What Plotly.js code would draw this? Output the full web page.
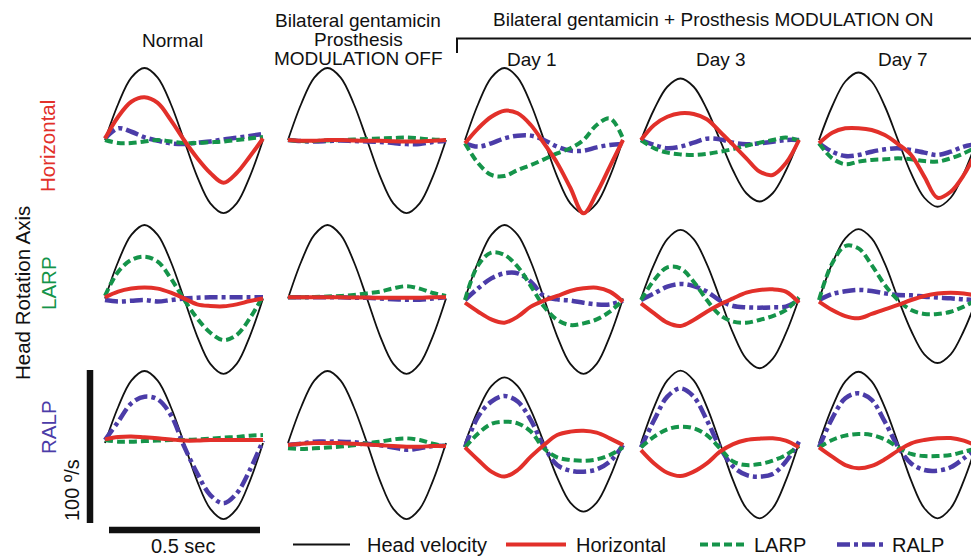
<!DOCTYPE html>
<html><head><meta charset="utf-8">
<script src="https://cdn.plot.ly/plotly-3.0.1.min.js"></script>
<style>html,body{margin:0;padding:0;background:#fff;} #chart{width:971px;height:556px;}</style>
</head><body><div id="chart"></div>
<script>
// time within one head-rotation cycle (s)
const t = [0, 0.0417, 0.0833, 0.125, 0.1667, 0.2083, 0.25, 0.2917, 0.3333, 0.375, 0.4167, 0.4583, 0.5];

const columns = ['Normal', 'Bilateral gentamicin Prosthesis MODULATION OFF', 'Day 1', 'Day 3', 'Day 7'];
const rotationAxes = ['Horizontal', 'LARP', 'RALP'];
const seriesNames = ['Head velocity', 'Horizontal', 'LARP', 'RALP'];

// ---- Head rotation about Horizontal axis (deg/s) ----
const head_H_normal = [0, 24, 41.6, 48, 41.6, 24, 0, -24.4, -42.2, -48.7, -42.2, -24.4, 0];
const hor_H_normal  = [1, 15.5, 25.5, 28.5, 24.7, 13.3, 0, -12, -22, -28.5, -22, -11, 1];
const larp_H_normal = [0, -2, -2, -1, 0, -1, -2, -2, -1.5, -1, 0, 1, 2];
const ralp_H_normal = [1, 7.8, 5.5, 1.8, -0.5, -2.2, -2.7, -1.8, -1, 0.4, 1.5, 2.7, 4];

const head_H_off = [0, 24, 41.6, 48, 41.6, 24, 0, -24.4, -42.2, -48.7, -42.2, -24.4, 0];
const hor_H_off  = [0, -0.5, -0.5, 0, 0, -0.3, -0.5, -0.5, -0.8, -1, -1, -0.5, 0];
const larp_H_off = [0, -0.7, -0.7, -0.3, 0, 0.3, 0.7, 1, 1.3, 1.7, 1, 0.3, 0];
const ralp_H_off = [0, -0.7, -1, -0.7, -0.3, -0.7, -1, -1.3, -2, -2.7, -2.7, -1.3, -0.7];

const head_H_d1 = [0, 24, 41.6, 48, 41.6, 24, 0, -24.4, -42.2, -48.7, -42.2, -24.4, 0];
const hor_H_d1  = [-2.2, 7.8, 15.5, 19.5, 17.8, 10, -2.2, -15.3, -31.8, -48.9, -35.4, -17.8, 0];
const larp_H_d1 = [-2.2, -15.5, -23.3, -24, -20, -16.7, -12.9, -8.9, -5.5, 0, 10, 14.4, 1];
const ralp_H_d1 = [-2.2, -4.4, -2.2, 1.1, 2.9, 2.9, 0, -4.4, -7.1, -7.1, -4.9, -3.3, -2.7];

const head_H_d3 = [0, 20.5, 35.5, 41, 35.5, 20.5, 0, -20.5, -35.5, -41, -35.5, -20.5, 0];
const hor_H_d3  = [0, 10, 15.5, 17.8, 17.3, 13.8, 5.5, -3.3, -12.2, -21, -23.3, -15.5, 0];
const larp_H_d3 = [0, -5.5, -8.4, -9.6, -10, -9.3, -7.8, -6, -3.8, -1.8, 0, 1.6, -0.4];
const ralp_H_d3 = [0, -3.3, -5.5, -4.4, -1.8, 0.9, 0.4, -1.8, -2.9, -2.2, -1.1, 0, 0];

const head_H_d7 = [0, 22.5, 39, 45, 39, 22.5, 0, -22.3, -38.5, -44.5, -38.5, -22.3, 0];
const hor_H_d7  = [-2.2, 4.9, 7.8, 7.9, 6.7, 3.3, -2.7, -10, -24.4, -38.5, -34.5, -23.3, -6.7];
const larp_H_d7 = [-2.2, -12.2, -16.2, -14.4, -13.3, -12.9, -12.2, -12.9, -14, -14.4, -12.2, -8.9, -4.4];
const ralp_H_d7 = [-2.2, -7.8, -10.7, -10, -7.8, -6.2, -5.5, -6.7, -8.4, -10, -7.8, -4.4, -2.7];

// ---- Head rotation about LARP axis ----
const head_L_normal = [0, 24.5, 42.4, 49, 42.4, 24.5, 0, -25.2, -43.6, -50.3, -43.6, -25.2, 0];
const hor_L_normal  = [0.8, 4.6, 6.6, 7.4, 6.6, 3.9, 0.1, -3.9, -5, -5.2, -3.9, -1.7, 0];
const larp_L_normal = [1.7, 17.9, 25.7, 27.9, 24.6, 13.4, -0.6, -13.2, -22.8, -27.7, -24.3, -13.2, 1.7];
const ralp_L_normal = [-1, -2, -1.5, -1, -2, -1, 0, 0.5, 0.8, 0.8, 0.8, 0.8, 0.8];

const head_L_off = [0, 24.5, 42.4, 49, 42.4, 24.5, 0, -25.2, -43.6, -50.3, -43.6, -25.2, 0];
const hor_L_off  = [0.8, 0.8, 0.8, 0.8, 0.8, 0.6, 0.6, 0.5, 0.5, 0.5, 0.5, 0.8, 0.8];
const larp_L_off = [0.8, 0.8, 1, 1.3, 1.7, 2.3, 3.4, 4.6, 6.8, 8.2, 6.6, 3.7, 1.7];
const ralp_L_off = [0.8, 0.8, 0.8, 0.8, 0.8, 0.5, 0.5, 0, -0.5, -0.8, -0.8, 0, 0.8];

const head_L_d1 = [0, 24.5, 42.4, 49, 42.4, 24.5, 0, -25.2, -43.6, -50.3, -43.6, -25.2, 0];
const hor_L_d1  = [-2.8, -8.8, -13.9, -16.1, -12.1, -5.4, -1.4, 1.7, 5, 6.8, 7.2, 4.6, -2.1];
const larp_L_d1 = [-1, 22.3, 30.6, 29, 21.2, 8.3, -5.4, -14.3, -17.7, -16.6, -13.9, -8.8, -1];
const ralp_L_d1 = [-1, 6.8, 13.4, 16.8, 16.8, 11.2, 1.7, -0.6, -1.4, -2.8, -3.9, -3.9, -1.4];

const head_L_d3 = [0, 22.9, 39.6, 45.7, 39.6, 22.9, 0, -23.3, -40.3, -46.5, -40.3, -23.3, 0];
const hor_L_d3  = [-3.2, -9.9, -16.1, -18.3, -14.3, -8.8, -3.9, 0.1, 3.9, 5.7, 6.1, 4.6, -2.8];
const larp_L_d3 = [-1, 12.3, 20.8, 20.1, 11.2, -1, -11, -15.4, -16.1, -14.3, -11.7, -7.7, 0.8];
const ralp_L_d3 = [-1, 3.4, 7.9, 9.7, 8.3, 4.6, -1.4, -5, -5.9, -6.1, -5.9, -5.4, -1];

const head_L_d7 = [-0.5, 23.2, 40.1, 46.3, 40.1, 23.2, 0, -21.5, -37.2, -43, -37.2, -21.5, 0];
const hor_L_d7  = [-2.1, -7.7, -11.7, -13.2, -10.3, -7.2, -4.3, -1, 1.7, 3.4, 3.9, 3.4, 1.7];
const larp_L_d7 = [-1, 23.4, 35, 33.4, 22.3, 9, -1, -7.7, -10.3, -10.3, -8.8, -5.4, -0.6];
const ralp_L_d7 = [-1, 3, 4.8, 5.7, 5, 3.4, 2.3, 2.1, 1.2, 0.6, 0.1, -0.6, -1];

// ---- Head rotation about RALP axis ----
const head_R_normal = [0, 24, 41.6, 48, 41.6, 24, 0, -25.4, -43.9, -50.7, -43.9, -25.4, 0];
const hor_R_normal  = [2.4, 4, 4.4, 3.8, 3.1, 2.4, 1.6, 1.6, 2, 2, 2, 2, 2];
const larp_R_normal = [2, 0.9, 0.9, 1.3, 1.6, 2, 2, 2.4, 2.9, 3.6, 4, 4.9, 5.3];
const ralp_R_normal = [2, 14.2, 26.4, 30.9, 29.1, 18.7, -2, -20.2, -34.7, -40.2, -33.6, -18, 1.6];

const head_R_off = [0, 24, 41.6, 48, 41.6, 24, 0, -25.4, -43.9, -50.7, -43.9, -25.4, 0];
const hor_R_off  = [-1.3, -0.5, 0, 0, 0, -0.5, -1, -1.5, -2, -2.5, -2.5, -2, -2];
const larp_R_off = [-3.5, -4, -3.5, -3, -2.4, -1.5, -0.2, 0.9, 2.4, 3.1, 2, -0.5, -2];
const ralp_R_off = [-1.3, -0.5, 0.9, 0.9, 0.9, 0.5, -0.5, -1.5, -3, -4.5, -3.5, -2, -2];

const head_R_d1 = [0, 21.9, 37.9, 43.8, 37.9, 21.9, 0, -22.9, -39.7, -45.8, -39.7, -22.9, 0];
const hor_R_d1  = [-2.9, -11.3, -19.1, -22.4, -18, -9.1, -1.3, 5.3, 7.6, 8.2, 6.9, 3.1, -1.3];
const larp_R_d1 = [-2.9, 6.4, 12.7, 14.2, 13.1, 7.6, -3.6, -9.6, -11.3, -11.8, -10.9, -8, -2.9];
const ralp_R_d1 = [-2.9, 17.6, 27.6, 31.3, 27.6, 15.3, -2.4, -14.7, -18.4, -19.1, -17.6, -12.4, -1.3];

const head_R_d3 = [0, 24.1, 41.7, 48.2, 41.7, 24.1, 0, -25.1, -43.5, -50.2, -43.5, -25.1, 0];
const hor_R_d3  = [-4.7, -13.6, -19.8, -22, -19.1, -13.6, -5.8, -0.7, 2, 2.9, 3.1, 1.6, -2.9];
const larp_R_d3 = [-2.9, 4.2, 9.1, 10.9, 9.8, 5.3, -3.6, -12.4, -14.7, -14, -11.8, -8, -2];
const ralp_R_d3 = [-2.9, 15.3, 30.9, 36.4, 30.9, 15.3, -2.9, -15.8, -21.3, -22.4, -20.7, -12.4, 0.9];

const head_R_d7 = [0, 23.8, 41.1, 47.5, 41.1, 23.8, 0, -25.1, -43.5, -50.2, -43.5, -25.1, 0];
const hor_R_d7  = [-2.9, -9.1, -14.7, -16.9, -15.3, -10.9, -5.1, -0.2, 2, 3.1, 3.3, 1.6, -2];
const larp_R_d7 = [-2.9, 2, 4.9, 6, 5.3, 2.4, -2.9, -7.3, -8.7, -8.7, -8, -5.8, -3.6];
const ralp_R_d7 = [-2.9, 16.4, 29.8, 33.1, 28.7, 14.2, -2.4, -13.6, -18, -18.4, -16.2, -10.2, -2.9];

const grid = [
  [[head_H_normal, hor_H_normal, larp_H_normal, ralp_H_normal],
   [head_H_off, hor_H_off, larp_H_off, ralp_H_off],
   [head_H_d1, hor_H_d1, larp_H_d1, ralp_H_d1],
   [head_H_d3, hor_H_d3, larp_H_d3, ralp_H_d3],
   [head_H_d7, hor_H_d7, larp_H_d7, ralp_H_d7]],
  [[head_L_normal, hor_L_normal, larp_L_normal, ralp_L_normal],
   [head_L_off, hor_L_off, larp_L_off, ralp_L_off],
   [head_L_d1, hor_L_d1, larp_L_d1, ralp_L_d1],
   [head_L_d3, hor_L_d3, larp_L_d3, ralp_L_d3],
   [head_L_d7, hor_L_d7, larp_L_d7, ralp_L_d7]],
  [[head_R_normal, hor_R_normal, larp_R_normal, ralp_R_normal],
   [head_R_off, hor_R_off, larp_R_off, ralp_R_off],
   [head_R_d1, hor_R_d1, larp_R_d1, ralp_R_d1],
   [head_R_d3, hor_R_d3, larp_R_d3, ralp_R_d3],
   [head_R_d7, hor_R_d7, larp_R_d7, ralp_R_d7]]
];

// ---- styling / geometry ----
const W = 971, H = 556;
const RED = '#e2302a', GREEN = '#15944a', PURPLE = '#4b3ca8', BLACK = '#111111';
const styles = [
  {color: BLACK, width: 1.8, dash: 'solid'},
  {color: RED, width: 4, dash: 'solid'},
  {color: GREEN, width: 4, dash: '8px,4px'},
  {color: PURPLE, width: 4.5, dash: '13px,4px,4px,4px'}
];
const drawOrder = [0, 3, 2, 1];
const colLeft = [105, 288, 465, 641, 819];
const rowCenter = [140, 298.5, 443];
const pxPerSec = 316, pxPerUnit = 1.5, halfH = 80;
const FONT = 'Liberation Sans, Arial, Helvetica, sans-serif';

const px = x => x / W, py = y => 1 - y / H;

const traces = [];
const layout = {
  width: W, height: H,
  margin: {l: 0, r: 0, t: 0, b: 0},
  paper_bgcolor: '#ffffff', plot_bgcolor: 'rgba(0,0,0,0)',
  showlegend: false,
  font: {family: FONT, color: BLACK},
  annotations: [], shapes: []
};

for (let r = 0; r < 3; r++) {
  for (let c = 0; c < 5; c++) {
    const idx = r * 5 + c + 1;
    const sfx = idx === 1 ? '' : String(idx);
    const left = colLeft[c] - 4;
    const right = Math.min(colLeft[c] + 162, W);
    layout['xaxis' + sfx] = {
      domain: [px(left), px(right)],
      range: [(left - colLeft[c]) / pxPerSec, (right - colLeft[c]) / pxPerSec],
      visible: false, fixedrange: true, anchor: 'y' + sfx
    };
    layout['yaxis' + sfx] = {
      domain: [py(rowCenter[r] + halfH), py(rowCenter[r] - halfH)],
      range: [-halfH / pxPerUnit, halfH / pxPerUnit],
      visible: false, fixedrange: true, anchor: 'x' + sfx
    };
    drawOrder.forEach(s => {
      traces.push({
        type: 'scatter', mode: 'lines',
        x: t, y: grid[r][c][s],
        name: seriesNames[s] + ' — ' + rotationAxes[r] + ' / ' + columns[c],
        xaxis: 'x' + sfx, yaxis: 'y' + sfx,
        line: {color: styles[s].color, width: styles[s].width, dash: styles[s].dash, shape: 'spline', smoothing: 1},
        hoverinfo: 'skip'
      });
    });
  }
}

function ann(text, x, y, size, opts) {
  layout.annotations.push(Object.assign({
    text: text, x: px(x), y: py(y), xref: 'paper', yref: 'paper',
    showarrow: false, xanchor: 'center', yanchor: 'middle',
    font: {family: FONT, size: size, color: BLACK}
  }, opts || {}));
}

// column titles
ann('Normal', 172, 40, 19);
ann('Bilateral gentamicin', 358, 20, 19);
ann('Prosthesis', 358, 39, 19);
ann('MODULATION OFF', 358, 58, 19);
ann('Bilateral gentamicin + Prosthesis MODULATION ON', 712.5, 19, 19);
ann('Day 1', 532, 59, 19);
ann('Day 3', 721, 59, 19);
ann('Day 7', 903, 59, 19);

// row labels
ann('Horizontal', 48, 146, 20.5, {textangle: -90, font: {family: FONT, size: 20.5, color: RED}});
ann('LARP', 48, 283, 20.5, {textangle: -90, font: {family: FONT, size: 20.5, color: GREEN}});
ann('RALP', 48, 427, 20.5, {textangle: -90, font: {family: FONT, size: 20.5, color: PURPLE}});
ann('Head Rotation Axis', 22, 293, 20.5, {textangle: -90});

// scale bars
ann('100 º/s', 72, 490, 20, {textangle: -90});
ann('0.5 sec', 183, 546, 20);
layout.shapes.push({type: 'line', xref: 'paper', yref: 'paper', x0: px(90), x1: px(90), y0: py(370), y1: py(523), line: {color: BLACK, width: 6.5}});
layout.shapes.push({type: 'line', xref: 'paper', yref: 'paper', x0: px(109), x1: px(260), y0: py(530), y1: py(530), line: {color: BLACK, width: 6.5}});

// bracket over MODULATION ON columns
layout.shapes.push({type: 'path', xref: 'paper', yref: 'paper',
  path: 'M ' + px(457) + ',' + py(53) + ' L ' + px(457) + ',' + py(38.5) + ' L ' + px(971) + ',' + py(38.5),
  line: {color: BLACK, width: 2}});

// legend (bottom)
const legendItems = [
  {s: 0, x0: 293, x1: 350, tx: 365},
  {s: 1, x0: 506, x1: 566, tx: 574},
  {s: 2, x0: 700, x1: 745, tx: 752},
  {s: 3, x0: 837, x1: 884, tx: 890}
];
legendItems.forEach(it => {
  const st = styles[it.s];
  layout.shapes.push({type: 'line', xref: 'paper', yref: 'paper', x0: px(it.x0), x1: px(it.x1), y0: py(544.5), y1: py(544.5),
    line: {color: st.color, width: st.width, dash: st.dash}});
  ann(seriesNames[it.s], it.tx, 545, 20, {xanchor: 'left'});
});

Plotly.newPlot('chart', traces, layout, {staticPlot: true, displayModeBar: false});
</script>
</body></html>
